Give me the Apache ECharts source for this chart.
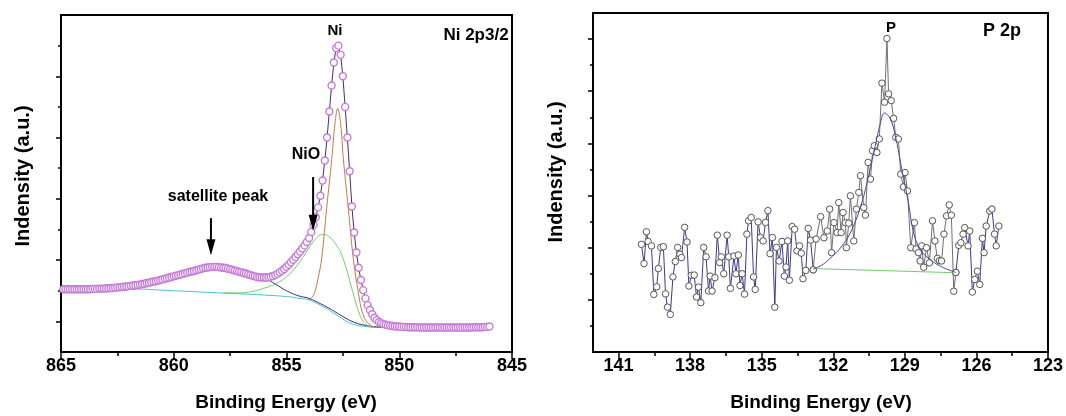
<!DOCTYPE html>
<html><head><meta charset="utf-8">
<script src="https://cdn.jsdelivr.net/npm/echarts@6/dist/echarts.min.js"></script>
<style>html,body{margin:0;padding:0;background:#fff}#c{width:1066px;height:416px}</style>
</head><body><div id="c"></div><script>
// ---------- Ni 2p3/2 panel ----------
const niEnergy = [
864.9,864.8,864.7,864.6,864.5,864.4,864.3,864.2,864.1,864.0,
863.9,863.8,863.7,863.6,863.5,863.4,863.3,863.2,863.1,863.0,
862.9,862.8,862.7,862.6,862.5,862.4,862.3,862.2,862.1,862.0,
861.9,861.8,861.7,861.6,861.5,861.4,861.3,861.2,861.1,861.0,
860.9,860.8,860.7,860.6,860.5,860.4,860.3,860.2,860.1,860.0,
859.9,859.8,859.7,859.6,859.5,859.4,859.3,859.2,859.1,859.0,
858.9,858.8,858.7,858.6,858.5,858.4,858.3,858.2,858.1,858.0,
857.9,857.8,857.7,857.6,857.5,857.4,857.3,857.2,857.1,857.0,
856.9,856.8,856.7,856.6,856.5,856.4,856.3,856.2,856.1,856.0,
855.9,855.8,855.7,855.6,855.5,855.4,855.3,855.2,855.1,855.0,
854.9,854.8,854.7,854.6,854.5,854.4,854.3,854.2,854.1,854.0,
853.9,853.8,853.7,853.6,853.5,853.4,853.3,853.2,853.1,853.0,
852.9,852.8,852.7,852.6,852.5,852.4,852.3,852.2,852.1,852.0,
851.9,851.8,851.7,851.6,851.5,851.4,851.3,851.2,851.1,851.0,
850.9,850.8,850.7,850.6,850.5,850.4,850.3,850.2,850.1,850.0,
849.9,849.8,849.7,849.6,849.5,849.4,849.3,849.2,849.1,849.0,
848.9,848.8,848.7,848.6,848.5,848.4,848.3,848.2,848.1,848.0,
847.9,847.8,847.7,847.6,847.5,847.4,847.3,847.2,847.1,847.0,
846.9,846.8,846.7,846.6,846.5,846.4,846.3,846.2,846.1,846.0];
const niIntensity = [
2.05,2.05,2.05,2.05,2.05,2.05,2.05,2.05,2.05,2.05,
2.05,2.05,2.05,2.06,2.06,2.06,2.07,2.07,2.07,2.08,
2.08,2.09,2.09,2.10,2.11,2.11,2.12,2.13,2.14,2.15,
2.16,2.17,2.18,2.19,2.20,2.22,2.23,2.25,2.26,2.28,
2.30,2.31,2.33,2.35,2.37,2.39,2.41,2.43,2.45,2.47,
2.49,2.51,2.53,2.55,2.57,2.59,2.61,2.63,2.65,2.67,
2.69,2.71,2.73,2.75,2.76,2.77,2.78,2.78,2.78,2.77,
2.76,2.75,2.74,2.72,2.70,2.68,2.66,2.64,2.62,2.60,
2.58,2.56,2.53,2.51,2.49,2.47,2.45,2.44,2.43,2.43,
2.43,2.44,2.46,2.48,2.51,2.55,2.60,2.65,2.71,2.78,
2.85,2.93,3.01,3.10,3.19,3.28,3.38,3.48,3.59,3.72,
3.92,4.15,4.40,4.72,5.10,5.60,6.25,7.00,7.85,8.70,
9.45,9.92,10.00,9.70,9.00,8.00,7.00,5.90,4.75,3.90,
3.25,2.75,2.35,2.02,1.75,1.53,1.37,1.23,1.12,1.04,
0.98,0.94,0.91,0.89,0.87,0.86,0.85,0.84,0.83,0.83,
0.82,0.82,0.82,0.81,0.81,0.81,0.81,0.81,0.80,0.80,
0.80,0.80,0.80,0.80,0.80,0.80,0.80,0.80,0.80,0.80,
0.80,0.80,0.80,0.80,0.80,0.80,0.80,0.80,0.80,0.80,
0.80,0.80,0.81,0.81,0.81,0.81,0.81,0.82,0.82,0.83];
// fitted components
const bgEnergy  = [864.9,862.0,860.0,858.0,856.0,855.0,854.4,854.0,853.4,852.8,852.2,851.6,851.0,850.0,849.4];
const bgValue   = [2.06,2.06,2.00,1.93,1.86,1.81,1.75,1.70,1.49,1.22,0.95,0.84,0.81,0.80,0.80];
const satEnergy = [862.0,861.0,860.0,859.0,858.3,857.5,857.0,856.5,856.0,855.5,855.0,854.5,854.0,853.5,853.0,852.5,852.0,851.5,851.0,850.4];
const satValue  = [2.14,2.27,2.46,2.66,2.76,2.68,2.58,2.48,2.42,2.22,2.00,1.84,1.75,1.58,1.38,1.16,0.97,0.87,0.82,0.80];
const nioEnergy = [857.8,857.0,856.5,856.0,855.5,855.0,854.5,854.0,853.7,853.4,853.1,852.8,852.6,852.4,852.2,852.0,851.8,851.6,851.3,851.0];
const nioValue  = [1.93,1.93,1.98,2.08,2.22,2.45,2.85,3.40,3.70,3.84,3.76,3.50,3.25,2.85,2.33,1.80,1.32,1.00,0.83,0.80];
const niFitEnergy = [854.0,853.85,853.74,853.6,853.44,853.22,852.99,852.85,852.73,852.6,852.48,852.26,852.04,851.82,851.6,851.3,851.0];
const niFitValue  = [1.70,1.80,1.97,2.40,3.06,4.69,6.32,7.45,7.95,7.45,6.32,4.69,3.06,1.97,1.21,0.88,0.80];
// annotation arrows: [energy, tail intensity, head-centre intensity]
const satArrow = [858.35, 4.37, 3.42];
const nioArrow = [853.82, 5.71, 4.22];

// ---------- P 2p panel ----------
const pEnergy = [
140.04,139.93,139.83,139.76,139.62,139.52,139.40,139.33,139.23,139.12,
139.03,138.95,138.83,138.72,138.62,138.52,138.43,138.36,138.23,138.13,
138.05,137.95,137.83,137.73,137.65,137.55,137.43,137.33,137.23,137.16,
137.08,136.96,136.86,136.76,136.69,136.59,136.45,136.38,136.31,136.16,
136.08,135.98,135.91,135.82,135.72,135.62,135.55,135.44,135.34,135.27,
135.15,135.05,134.94,134.84,134.74,134.65,134.55,134.45,134.38,134.27,
134.15,134.05,133.98,133.91,133.84,133.72,133.62,133.52,133.41,133.34,
133.27,133.15,133.05,132.95,132.84,132.72,132.53,132.39,132.25,132.15,
132.07,131.97,131.84,131.77,131.67,131.59,131.49,131.45,131.35,131.28,
131.14,131.03,130.93,130.86,130.72,130.65,130.54,130.44,130.35,130.28,
130.17,130.07,129.96,129.85,129.75,129.68,129.57,129.47,129.38,129.27,
129.17,129.06,128.99,128.89,128.75,128.60,128.53,128.43,128.36,128.29,
128.21,128.09,127.97,127.84,127.74,127.64,127.55,127.46,127.36,127.25,
127.14,127.05,126.95,126.86,126.74,126.65,126.56,126.49,126.35,126.28,
126.17,126.07,125.96,125.86,125.75,125.68,125.59,125.44,125.35,125.24,
125.17,125.06];
const pIntensity = [
4.13,3.39,4.61,4.24,4.07,2.21,2.50,3.20,4.01,4.04,
2.23,1.72,1.44,2.88,3.47,4.01,3.75,3.62,4.78,4.22,
2.53,2.94,2.95,2.11,2.49,1.89,4.01,3.65,2.34,2.91,
2.34,2.85,4.48,3.43,3.65,3.00,4.48,3.65,2.44,3.68,
3.00,3.72,2.55,3.00,2.22,4.52,5.03,5.16,2.88,2.40,
4.99,4.39,4.26,4.97,5.42,3.77,4.39,1.72,4.01,3.49,
4.24,2.91,3.26,4.26,2.75,4.81,4.71,3.88,4.07,3.79,
2.81,3.13,4.74,4.29,3.15,4.33,5.19,4.38,4.64,5.48,
3.81,4.96,4.58,5.73,4.58,5.35,4.96,4.00,4.94,5.99,
4.26,5.48,6.12,6.76,5.54,5.25,7.27,6.63,7.72,7.91,
7.65,8.17,10.31,9.58,12.02,9.90,9.64,8.96,8.23,8.17,
6.82,6.33,6.88,6.18,4.00,4.96,3.95,3.81,3.49,4.07,
3.25,4.00,3.42,5.03,4.26,3.59,3.50,3.49,4.52,5.22,
5.64,5.25,2.33,3.05,4.09,4.19,4.52,4.77,4.07,4.64,
2.30,2.78,3.10,2.59,4.36,3.81,4.83,5.41,5.48,4.52,
4.07,4.83];
const pFitEnergy = [132.84,132.5,132.18,131.63,131.21,130.8,130.52,130.24,130.03,129.85,129.61,129.4,129.13,128.85,128.64,128.36,127.95,127.53,127.11,126.86];
const pFitValue  = [3.18,3.32,3.55,4.07,4.71,5.73,6.76,7.91,8.75,9.17,8.94,8.30,7.02,5.73,4.60,3.94,3.55,3.30,3.13,3.05];
const pBaseEnergy = [132.84,126.86];
const pBaseValue  = [3.20,3.04];
const pFitStart = 132.84, pFitEnd = 126.86;

// tick labels
const niXTicks = [865,860,855,850,845];
const pXTicks = [141,138,135,132,129,126,123];
const pXMinor = [139.5,136.5,133.5,130.5,127.5,124.5];

// ---------- build ----------
const zip = (a,b) => a.map((v,i)=>[v,b[i]]);
const pAll = zip(pEnergy,pIntensity);
const pLeftSeg  = pAll.filter(d => d[0] >= pFitStart);
const pMidSeg   = pAll.filter(d => d[0] <= pFitStart && d[0] >= pFitEnd);
const pRightSeg = pAll.filter(d => d[0] <= pFitEnd);

const FONT = '"Liberation Sans", Arial, sans-serif';
const lbl = {fontFamily:FONT, fontWeight:'bold', fontSize:18, color:'#000', margin:5};
const axLine = {show:true, lineStyle:{color:'#000', width:2}};
function yMain(g, max, ticks){ return {type:'value', gridIndex:g, min:0, max:max, position:'left',
  axisLine:axLine, axisLabel:{show:false}, splitLine:{show:false},
  axisTick:{show:true, inside:false, length:5, customValues:ticks, lineStyle:{color:'#000', width:1.5}}}; }
function yMinor(g, max, ticks){ return {type:'value', gridIndex:g, min:0, max:max, position:'left',
  axisLine:{show:false}, axisLabel:{show:false}, splitLine:{show:false},
  axisTick:{show:true, inside:false, length:3, customValues:ticks, lineStyle:{color:'#000', width:1.5}}}; }
function arrowSeries(a){ return {type:'line', xAxisIndex:0, yAxisIndex:0, z:6, silent:true,
  lineStyle:{color:'#000', width:2}, itemStyle:{color:'#000'},
  data:[{value:[a[0],a[1]], symbol:'none'},
        {value:[a[0],a[2]], symbol:'triangle', symbolSize:[9,16], symbolRotate:180}]}; }

const circleNi = {color:'#fff', borderColor:'#c57bd8', borderWidth:1.4};
const circleP = {color:'#fff', borderColor:'#555', borderWidth:1};

const option = {
  animation:false,
  backgroundColor:'#fff',
  grid:[
    {left:61, top:15, width:451, height:337, show:true, borderColor:'#000', borderWidth:2, containLabel:false},
    {left:593, top:13, width:457, height:339, show:true, borderColor:'#000', borderWidth:2, containLabel:false}
  ],
  xAxis:[
    {type:'value', gridIndex:0, min:845, max:865, interval:5, inverse:true, position:'bottom',
     axisLine:axLine, splitLine:{show:false},
     axisTick:{show:true, length:7, lineStyle:{color:'#000', width:1.5}},
     minorTick:{show:true, splitNumber:2, length:4, lineStyle:{color:'#000', width:1.5}},
     axisLabel:Object.assign({}, lbl, {customValues:niXTicks})},
    {type:'value', gridIndex:1, min:123, max:142.07, inverse:true, position:'bottom',
     axisLine:axLine, splitLine:{show:false},
     axisTick:{show:true, length:7, customValues:pXTicks, lineStyle:{color:'#000', width:1.5}},
     axisLabel:Object.assign({}, lbl, {customValues:pXTicks})},
    {type:'value', gridIndex:1, min:123, max:142.07, inverse:true, position:'bottom',
     axisLine:{show:false}, splitLine:{show:false}, axisLabel:{show:false},
     axisTick:{show:true, length:4, customValues:pXMinor, lineStyle:{color:'#000', width:1.5}}}
  ],
  yAxis:[
    yMain(0, 11, [1,3,5,7,9]), yMinor(0, 11, [2,4,6,8,10]),
    yMain(1, 13, [2,4,6,8,10,12]), yMinor(1, 13, [1,3,5,7,9,11])
  ],
  series:[
    {type:'line', xAxisIndex:0, yAxisIndex:0, data:zip(bgEnergy,bgValue), smooth:0.4, symbol:'none',
     lineStyle:{color:'#45c4d6', width:1}},
    {type:'line', xAxisIndex:0, yAxisIndex:0, data:zip(satEnergy,satValue), smooth:0.4, symbol:'none',
     lineStyle:{color:'#33337a', width:1}},
    {type:'line', xAxisIndex:0, yAxisIndex:0, data:zip(nioEnergy,nioValue), smooth:0.4, symbol:'none',
     lineStyle:{color:'#6fcf6a', width:1}},
    {type:'line', xAxisIndex:0, yAxisIndex:0, data:zip(niFitEnergy,niFitValue), smooth:0.4, symbol:'none',
     lineStyle:{color:'#c97a45', width:1}},
    {type:'line', xAxisIndex:0, yAxisIndex:0, data:zip(niEnergy,niIntensity), symbol:'circle', symbolSize:7,
     showSymbol:true, showAllSymbol:true, itemStyle:circleNi, lineStyle:{color:'#4a2d6e', width:1}, z:5},
    arrowSeries(satArrow),
    arrowSeries(nioArrow),
    // P 2p
    {type:'line', xAxisIndex:1, yAxisIndex:2, data:zip(pBaseEnergy,pBaseValue), symbol:'none',
     lineStyle:{color:'#6fcf6a', width:1}},
    {type:'line', xAxisIndex:1, yAxisIndex:2, data:pLeftSeg, symbol:'circle', symbolSize:6.5, showSymbol:true,
     itemStyle:circleP, lineStyle:{color:'#3b3b8e', width:1}, z:3},
    {type:'line', xAxisIndex:1, yAxisIndex:2, data:pMidSeg, symbol:'circle', symbolSize:6.5, showSymbol:true,
     itemStyle:circleP, lineStyle:{color:'#707070', width:1}, z:3},
    {type:'line', xAxisIndex:1, yAxisIndex:2, data:pRightSeg, symbol:'circle', symbolSize:6.5, showSymbol:true,
     itemStyle:circleP, lineStyle:{color:'#3b3b8e', width:1}, z:3},
    {type:'line', xAxisIndex:1, yAxisIndex:2, data:zip(pFitEnergy,pFitValue), smooth:0.4, symbol:'none',
     lineStyle:{color:'#4a4a9c', width:1}, z:4}
  ],
  graphic:[
    {type:'text', x:335, y:31, style:{text:'Ni', font:'bold 15px '+FONT, fill:'#000', align:'center', verticalAlign:'middle'}},
    {type:'text', x:476, y:35, style:{text:'Ni 2p3/2', font:'bold 17px '+FONT, fill:'#000', align:'center', verticalAlign:'middle'}},
    {type:'text', x:306, y:155, style:{text:'NiO', font:'bold 16px '+FONT, fill:'#000', align:'center', verticalAlign:'middle'}},
    {type:'text', x:218, y:197, style:{text:'satellite peak', font:'bold 16px '+FONT, fill:'#000', align:'center', verticalAlign:'middle'}},
    {type:'text', x:891, y:28, style:{text:'P', font:'bold 15px '+FONT, fill:'#000', align:'center', verticalAlign:'middle'}},
    {type:'text', x:1002, y:31, style:{text:'P 2p', font:'bold 18px '+FONT, fill:'#000', align:'center', verticalAlign:'middle'}},
    {type:'text', x:23, y:176, rotation:Math.PI/2, style:{text:'Indensity (a.u.)', font:'bold 20px '+FONT, fill:'#000', align:'center', verticalAlign:'middle'}},
    {type:'text', x:556, y:172, rotation:Math.PI/2, style:{text:'Indensity (a.u.)', font:'bold 20px '+FONT, fill:'#000', align:'center', verticalAlign:'middle'}},
    {type:'text', x:286, y:403, style:{text:'Binding Energy (eV)', font:'bold 19px '+FONT, fill:'#000', align:'center', verticalAlign:'middle'}},
    {type:'text', x:821, y:403, style:{text:'Binding Energy (eV)', font:'bold 19px '+FONT, fill:'#000', align:'center', verticalAlign:'middle'}}
  ]
};
const chart = echarts.init(document.getElementById('c'), null, {renderer:'canvas'});
chart.setOption(option);
</script></body></html>
